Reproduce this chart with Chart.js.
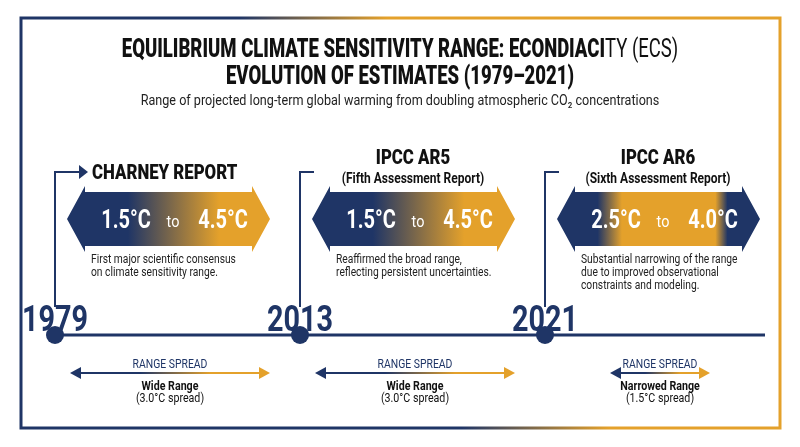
<!DOCTYPE html>
<html><head><meta charset="utf-8">
<script src="https://cdn.jsdelivr.net/npm/chart.js@4"></script>
<style>html,body{margin:0;padding:0;background:#fff}#w{width:800px;height:447px}</style>
</head><body><div id="w"><canvas id="c"></canvas></div>
<script>
const years = ['1979','2013','2021'];
const titles = [['CHARNEY REPORT'],['IPCC AR5','(Fifth Assessment Report)'],['IPCC AR6','(Sixth Assessment Report)']];
const lows = [1.5,1.5,2.5];
const highs = [4.5,4.5,4.0];
const notes = [['First major scientific consensus','on climate sensitivity range.'],['Reaffirmed the broad range,','reflecting persistent uncertainties.'],['Substantial narrowing of the range','due to improved observational','constraints and modeling.']];
const spreadLabels = ['Wide Range','Wide Range','Narrowed Range'];
const spreads = [3.0,3.0,1.5];
const NAVY='#1f3566', GOLD='#e4a12b';
const F="Roboto,'DejaVu Sans Condensed',sans-serif";

function T(c,t,x,y,font,sq){c.font=font;const w=c.measureText(t).width;c.fillText(t,x,y,w*(sq||0.82));}

const plugin={id:'info',afterDraw(ch){
 const c=ch.ctx, xs=ch.scales.x, ys=ch.scales.y;
 const ty=ys.getPixelForValue(0);
 c.save();
 let g=c.createLinearGradient(20,430,780,18);g.addColorStop(0,NAVY);g.addColorStop(0.45,NAVY);g.addColorStop(0.6,GOLD);g.addColorStop(1,GOLD);
 c.strokeStyle=g;c.lineWidth=3;c.strokeRect(21,18,759,410);
 c.fillStyle='#111';
 const a='EQUILIBRIUM CLIMATE SENSITIVITY RANGE: ECONDIACI', b='TY (ECS)';
 c.font='900 25px '+F;const wa=c.measureText(a).width*0.74; c.font='25px '+F; const wb=c.measureText(b).width*0.74;
 const x0=400-(wa+wb)/2;
 c.textAlign='left';T(c,a,x0,57,'900 25px '+F,0.74);T(c,b,x0+wa,57,'25px '+F,0.74);
 c.textAlign='center';T(c,'EVOLUTION OF ESTIMATES (1979–2021)',400,84,'900 25px '+F,0.74);
 c.fillStyle='#222';T(c,'Range of projected long-term global warming from doubling atmospheric CO₂ concentrations',400,105,'14px '+F,0.9);
 c.strokeStyle=NAVY;c.lineWidth=3;c.beginPath();c.moveTo(xs.getPixelForValue(0),ty);c.lineTo(765,ty);c.stroke();
 years.forEach((y,i)=>{
  const x=xs.getPixelForValue(i), cx=x+113;
  c.strokeStyle=NAVY;c.lineWidth=2;c.beginPath();c.moveTo(x,ty-28);c.lineTo(x,172);c.lineTo(i==0?x+25:x+14,172);c.stroke();
  if(i==0){c.fillStyle=NAVY;c.beginPath();c.moveTo(x+33,172);c.lineTo(x+24,165);c.lineTo(x+24,179);c.fill();}
  c.fillStyle=NAVY;c.textAlign='center';T(c,y,x,ty-4,'bold 36px '+F,0.8);
  c.beginPath();c.arc(x,ty,9,0,Math.PI*2);c.fill();
  c.fillStyle='#111';
  if(titles[i].length==1){c.textAlign='left';T(c,titles[i][0],x+37,179,'900 21px '+F,0.8);}
  else{c.textAlign='center';T(c,titles[i][0],cx,164,'900 21px '+F,0.8);T(c,titles[i][1],cx,183,'bold 15px '+F,0.8);}
  const L=cx-101,R=cx+102,Tp=192,B=246,M=219,H=18;
  let gr=c.createLinearGradient(L,0,R,0);
  if(i<2){gr.addColorStop(0,NAVY);gr.addColorStop(0.3,NAVY);gr.addColorStop(0.75,GOLD);gr.addColorStop(1,GOLD);}
  else{gr.addColorStop(0,NAVY);gr.addColorStop(0.2,NAVY);gr.addColorStop(0.32,GOLD);gr.addColorStop(0.78,GOLD);gr.addColorStop(0.84,NAVY);gr.addColorStop(1,NAVY);}
  c.fillStyle=gr;c.beginPath();c.moveTo(L,M);c.lineTo(L+H,Tp-6);c.lineTo(L+H,Tp);c.lineTo(R-H,Tp);c.lineTo(R-H,Tp-6);c.lineTo(R,M);c.lineTo(R-H,B+6);c.lineTo(R-H,B);c.lineTo(L+H,B);c.lineTo(L+H,B+6);c.closePath();c.fill();
  c.fillStyle='#fff';c.textAlign='center';
  T(c,lows[i].toFixed(1)+'°C',cx-42,228,'bold 25px '+F,0.8);T(c,highs[i].toFixed(1)+'°C',cx+55,228,'bold 25px '+F,0.8);
  T(c,'to',cx+5,227,'17px '+F,0.85);
  c.fillStyle='#222';c.textAlign='left';
  notes[i].forEach((n,k)=>T(c,n,cx-77,263+k*13,'12.5px '+F,0.82));
  c.textAlign='center';c.fillStyle=NAVY;T(c,'RANGE SPREAD',cx+2,368,'13px '+F,0.8);
  const hw=spreads[i]/3*100, al=cx-hw+2, ar=cx+hw+2;
  let sg=c.createLinearGradient(al,0,ar,0);sg.addColorStop(0,NAVY);sg.addColorStop(0.35,NAVY);sg.addColorStop(0.7,GOLD);sg.addColorStop(1,GOLD);
  c.strokeStyle=sg;c.lineWidth=2;c.beginPath();c.moveTo(al+4,373);c.lineTo(ar-4,373);c.stroke();
  c.fillStyle=NAVY;c.beginPath();c.moveTo(al,373);c.lineTo(al+11,367);c.lineTo(al+11,379);c.fill();
  c.fillStyle=GOLD;c.beginPath();c.moveTo(ar,373);c.lineTo(ar-11,367);c.lineTo(ar-11,379);c.fill();
  c.fillStyle='#111';T(c,spreadLabels[i],cx+2,390,'bold 13px '+F,0.82);
  T(c,'('+spreads[i].toFixed(1)+'°C spread)',cx+2,402,'13px '+F,0.82);
 });
 c.restore();
}};
new Chart(document.getElementById('c'),{type:'line',
 data:{labels:years,datasets:[{data:years.map(()=>0),showLine:false,pointRadius:0}]},
 options:{responsive:true,maintainAspectRatio:false,animation:false,
  layout:{padding:{left:55,right:255,top:200,bottom:112}},
  plugins:{legend:{display:false},tooltip:{enabled:false}},
  scales:{x:{display:false},y:{display:false,min:0,max:1}}},
 plugins:[plugin]});
</script></body></html>
